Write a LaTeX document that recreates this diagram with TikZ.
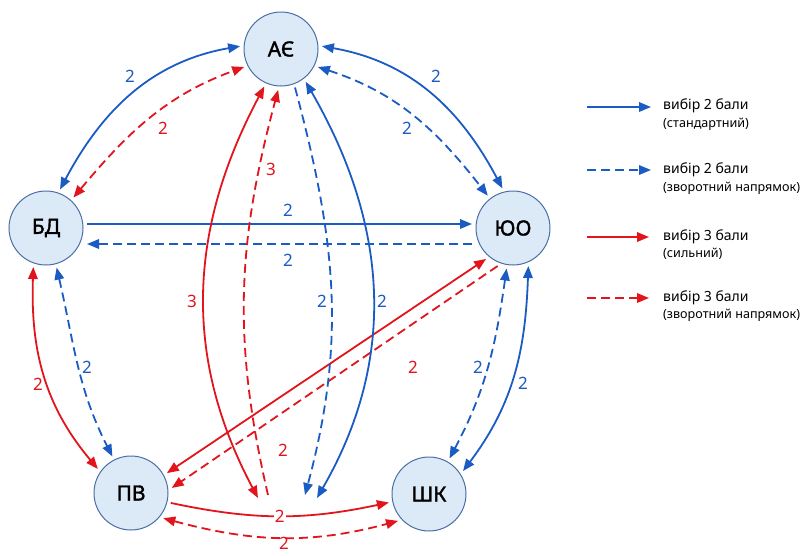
\documentclass[tikz,border=0pt]{standalone}
\usepackage{fontspec}
\setmainfont{Noto Sans}
\newfontfamily\nodefont[FakeBold=1.6]{Noto Sans}
\usetikzlibrary{arrows.meta}
\definecolor{cblue}{HTML}{1A5BC4}
\definecolor{cred}{HTML}{E2141C}
\definecolor{nfill}{HTML}{DCE9F7}
\definecolor{ndraw}{HTML}{4A6FA5}
\begin{document}
\begin{tikzpicture}[x=1pt,y=-1pt,
  >={Triangle[length=12pt,width=9.5pt]},
  person/.style={circle,draw=ndraw,line width=1pt,fill=nfill,minimum size=74pt,inner sep=0pt,outer sep=4pt,font=\nodefont\fontsize{21}{21}\selectfont\bfseries},
  bsolid/.style={cblue,line width=1.8pt},
  bdash/.style={cblue,line width=1.8pt,dash pattern=on 9pt off 5pt},
  rsolid/.style={cred,line width=1.8pt},
  rdash/.style={cred,line width=1.8pt,dash pattern=on 9pt off 5pt},
  numb/.style={font=\fontsize{17}{17}\selectfont,text=cblue,inner sep=1pt},
  numr/.style={font=\fontsize{17}{17}\selectfont,text=cred,inner sep=1pt},
  lgt/.style={anchor=west,inner sep=0pt,font=\fontsize{14}{14}\selectfont},
  lgs/.style={anchor=west,inner sep=0pt,font=\fontsize{12.6}{12.6}\selectfont},
]
\useasboundingbox (0,0) rectangle (803,555);
\fill[white] (0,0) rectangle (803,555);

\node[person] (ae) at (281,49) {АЄ};
\node[person] (bd) at (46,228) {БД};
\node[person] (yuo) at (513,228) {ЮО};
\node[person] (pv) at (131,493) {ПВ};
\node[person] (shk) at (429,494) {ШК};

\coordinate (rsb) at (258,498);
\coordinate (rdb) at (268,495);
\coordinate (bdb) at (305,495);
\coordinate (bsb) at (317,498);

\draw[bsolid,<->] (bd.70) to[out=62,in=190] (ae.176);
\draw[rdash,<->] (bd.48) to[out=50,in=200] (ae.206);
\draw[bsolid,<->] (ae.4) to[out=350,in=118] (yuo.105);
\draw[bdash,<->] (ae.334) to[out=342,in=128] (yuo.128);
\draw[bsolid,->] ([yshift=4pt]bd.east) -- ([yshift=4pt]yuo.west);
\draw[bdash,->] ([yshift=-16pt]yuo.west) -- ([yshift=-16pt]bd.east);

\draw[rsolid,<->] (bd.252) to[out=268,in=130] (pv.144);
\draw[bdash,<->] (bd.285) to[out=283,in=117] (pv.117);
\draw[bsolid,<->] (yuo.292) to[out=268,in=53] (shk.34);
\draw[bdash,<->] (yuo.261) to[out=262,in=62] (shk.60);
\draw[rsolid,<->] (pv.29) -- (yuo.229);
\draw[rdash,->] (yuo.248) -- (pv.7);
\draw[rsolid,->] (pv.-14) to[out=-12,in=192] node[numr,fill=white]{2} (shk.192);
\draw[rdash,<->] (pv.-38) to[out=-15,in=195] (shk.221);

\draw[rsolid,<->] (ae.246) to[out=242,in=118] (rsb);
\draw[rdash,->] (rdb) to[out=103,in=255] (ae.266);
\draw[bdash,->] (ae.290) to[out=285,in=75] (bdb);
\draw[bsolid,<->] (ae.307) to[out=300,in=60] (bsb);

\node[numb] (l1) at (130,76) {2};
\node[numr] (l2) at (163,128) {2};
\node[numb] (l3) at (436,76) {2};
\node[numb] (l4) at (407,128) {2};
\node[numb] (l5) at (288,210) {2};
\node[numb] (l6) at (288,260) {2};
\node[numr] (l7) at (271,169) {3};
\node[numr] (l8) at (192,301) {3};
\node[numb] (l9) at (322,301) {2};
\node[numb] (l10) at (382,301) {2};
\node[numr] (l11) at (38,384) {2};
\node[numb] (l12) at (87,367) {2};
\node[numb] (l13) at (478,367) {2};
\node[numb] (l14) at (523,383) {2};
\node[numr] (l15) at (413,367) {2};
\node[numr] (l16) at (283,450) {2};
\node[numr] (l17) at (284,543) {2};

% legend
\coordinate (a1s) at (587,107); \coordinate (a1e) at (651,107);
\coordinate (a2s) at (587,170); \coordinate (a2e) at (651,170);
\coordinate (a3s) at (587,237); \coordinate (a3e) at (649,237);
\coordinate (a4s) at (587,298); \coordinate (a4e) at (649,298);
\draw[bsolid,->] (a1s) -- (a1e);
\draw[bdash,->] (a2s) -- (a2e);
\draw[rsolid,->] (a3s) -- (a3e);
\draw[rdash,->] (a4s) -- (a4e);
\node[lgt] (t1) at (663,106) {вибір 2 бали};
\node[lgs] (s1) at (663,124) {(стандартний)};
\node[lgt] (t2) at (663,170) {вибір 2 бали};
\node[lgs] (s2) at (663,188) {(зворотний напрямок)};
\node[lgt] (t3) at (663,237) {вибір 3 бали};
\node[lgs] (s3) at (663,254) {(сильний)};
\node[lgt] (t4) at (663,298) {вибір 3 бали};
\node[lgs] (s4) at (663,315) {(зворотний напрямок)};
\end{tikzpicture}
\end{document}
